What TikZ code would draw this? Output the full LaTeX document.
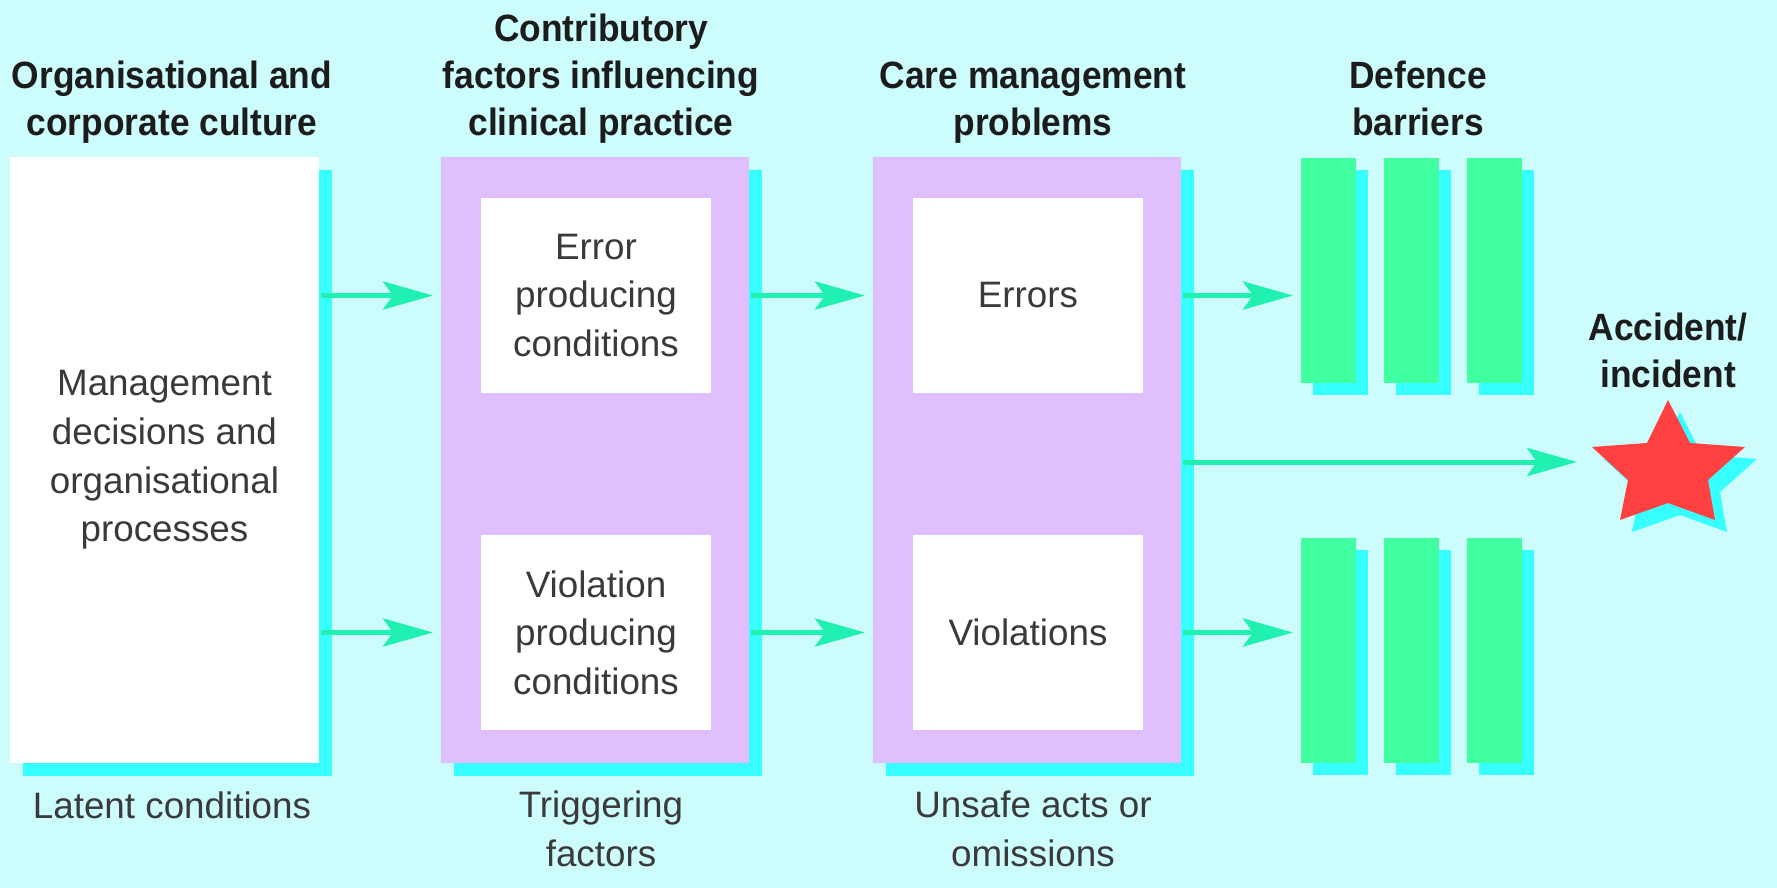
\documentclass[tikz,border=0pt]{standalone}
\usepackage{fontspec}
\setmainfont{Liberation Sans}
\newfontfamily\hdfont{Liberation Sans}[FakeStretch=0.93]
\usetikzlibrary{arrows.meta,shadows}
\definecolor{bgcyan}{HTML}{CCFCFC}
\definecolor{shcyan}{HTML}{38FFFF}
\definecolor{lilac}{HTML}{E0C0FC}
\definecolor{barg}{HTML}{40FFA0}
\definecolor{arrgreen}{HTML}{20F0B0}
\definecolor{starred}{HTML}{FF4040}
\definecolor{headtext}{HTML}{1C1C1C}
\definecolor{bodytext}{HTML}{3A3A3A}
\begin{document}
\begin{tikzpicture}[x=0.5pt,y=-0.5pt,
  shbox/.style={draw=none, inner sep=0pt, outer sep=0pt,
    drop shadow={fill=shcyan, opacity=1, shadow xshift=6.5pt, shadow yshift=-6.5pt}},
  whitebox/.style={shbox, fill=white},
  purplebox/.style={shbox, fill=lilac},
  innerbox/.style={fill=white, inner sep=0pt, outer sep=0pt},
  barrier/.style={fill=barg, inner sep=0pt, outer sep=0pt,
    minimum width=27.5pt, minimum height=112.5pt,
    drop shadow={fill=shcyan, opacity=1, shadow xshift=6pt, shadow yshift=-6pt}},
  head/.style={font=\hdfont\bfseries\fontsize{19pt}{23.5pt}\selectfont, text=headtext, align=center, inner sep=0pt},
  body/.style={font=\fontsize{18.4pt}{24.3pt}\selectfont, text=bodytext, align=center, inner sep=0pt},
  arr/.style={draw=arrgreen, line width=2.5pt, shorten <=1pt, shorten >=4pt,
    -{Stealth[length=25pt,width=14pt,inset=5pt]}}
]
\fill[bgcyan] (0,0) rectangle (1777,888);
\useasboundingbox (0,0) rectangle (1777,888);

% main boxes
\node[whitebox, body, minimum width=154.5pt, minimum height=303pt] (org) at (164.5,460)
  {Management\\decisions and\\organisational\\processes};
\node[purplebox, minimum width=154pt, minimum height=303pt] (contrib) at (595,460) {};
\node[purplebox, minimum width=154pt, minimum height=303pt] (care) at (1027,460) {};

% inner boxes
\node[innerbox, body, minimum width=115pt, minimum height=97.5pt] (epc) at (596,295.5) {Error\\producing\\conditions};
\node[innerbox, body, minimum width=115pt, minimum height=97.5pt] (vpc) at (596,632.5) {Violation\\producing\\conditions};
\node[innerbox, body, minimum width=115pt, minimum height=97.5pt] (err) at (1028,295.5) {Errors};
\node[innerbox, body, minimum width=115pt, minimum height=97.5pt] (viol) at (1028,632.5) {Violations};

% defence barriers
\node[barrier] (bt1) at (1328.5,270.5) {};
\node[barrier] (bt2) at (1411.5,270.5) {};
\node[barrier] (bt3) at (1494.5,270.5) {};
\node[barrier] (bb1) at (1328.5,650.5) {};
\node[barrier] (bb2) at (1411.5,650.5) {};
\node[barrier] (bb3) at (1494.5,650.5) {};

% star
\fill[shcyan, shift={(12,12)}] (1668,400) -- (1690,443) -- (1745,447) -- (1708,480) -- (1715,520) -- (1668,503) -- (1620,520) -- (1628,480) -- (1592,447) -- (1647,443) -- cycle;
\fill[starred] (1668,400) -- (1690,443) -- (1745,447) -- (1708,480) -- (1715,520) -- (1668,503) -- (1620,520) -- (1628,480) -- (1592,447) -- (1647,443) -- cycle;
\coordinate (acc) at (1577,462);

% headers (anchor base = baseline of last line)
\node[head, anchor=base] (h1) at (172,135) {Organisational and\\corporate culture};
\node[head, anchor=base] (h2) at (601,135) {Contributory\\factors influencing\\clinical practice};
\node[head, anchor=base] (h3) at (1033,135) {Care management\\problems};
\node[head, anchor=base] (h4) at (1418,135) {Defence\\barriers};
\node[head, anchor=base] (h5) at (1668,387) {Accident/\\incident};

% bottom labels
\node[body, anchor=base] (lat) at (172,818) {Latent conditions};
\node[body, anchor=base] (trig) at (601,866) {Triggering\\factors};
\node[body, anchor=base] (unsafe) at (1033,866) {Unsafe acts or\\omissions};

% arrows
\draw[arr] (org.east |- epc) -- (contrib.west |- epc);
\draw[arr] (org.east |- vpc) -- (contrib.west |- vpc);
\draw[arr] (contrib.east |- epc) -- (care.west |- err);
\draw[arr] (contrib.east |- vpc) -- (care.west |- viol);
\draw[arr] (care.east |- err) -- (bt1.west |- err);
\draw[arr] (care.east |- viol) -- (bb1.west |- viol);
\draw[arr, shorten >=0pt] (care.east |- acc) -- (acc);
\end{tikzpicture}
\end{document}
